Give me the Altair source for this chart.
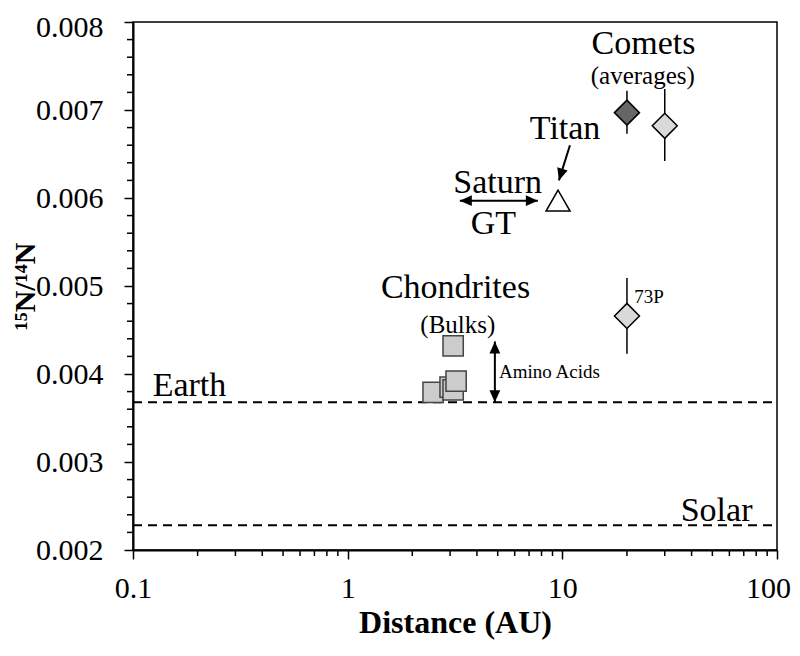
import altair as alt
import pandas as pd

FONT = "Liberation Serif"
W, H = 644, 528

# ---------------- data ----------------
# comet averages (dark = first, light = second) and comet 73P
comet_x = [20, 30, 20]
comet_y = [0.00697, 0.00682, 0.00466]
comet_lo = [0.00673, 0.00642, 0.00423]
comet_hi = [0.00722, 0.00724, 0.00509]
comet_group = ["dark", "light", "light"]

titan_x = [9.55]
titan_y = [0.00597]

chond_x = [2.5, 3.0, 3.1, 3.2, 3.1]
chond_y = [0.00379, 0.00385, 0.00382, 0.00392, 0.00432]

ref_names = ["Earth", "Solar"]
ref_y = [0.00368, 0.00228]
x_span = [0.1, 100]

# arrows: segments and heads
seg_x = [10.85, 3.33, 4.85]
seg_y = [0.00660, 0.00597, 0.00368]
seg_x2 = [9.64, 7.69, 4.85]
seg_y2 = [0.00620, 0.00597, 0.00437]
head_x = [9.64, 3.33, 7.69, 4.85, 4.85]
head_y = [0.00620, 0.00597, 0.00597, 0.00368, 0.00437]
head_angle = [17, 90, 270, 0, 180]

# labels
big_text = ["Comets", "Titan", "Saturn", "GT", "Chondrites"]
big_x = [23.9, 10.3, 5.0, 4.77, 3.18]
big_y = [0.00764, 0.006675, 0.00606, 0.005595, 0.00486]
sub_text = ["(averages)", "(Bulks)"]
sub_x = [23.7, 3.26]
sub_y = [0.0073, 0.00447]
ref_lab_x = [0.1235, 35.6]
ref_lab_y = [0.003748, 0.002334]
small_text = ["Amino Acids", "73P"]
small_x = [5.07, 21.6]
small_y = [0.004026, 0.00487]

# axis ticks
y_major = [0.002, 0.003, 0.004, 0.005, 0.006, 0.007, 0.008]
x_major = [0.1, 1, 10, 100]
y_minor = [round(0.002 + 0.0002 * i, 4) for i in range(31) if i % 5 != 0]
x_minor = [m * 10 ** e for e in (-1, 0, 1) for m in range(2, 10)]

# ---------------- scales / axes ----------------
xs = alt.Scale(type="log", domain=[0.1, 100], nice=False)
ys = alt.Scale(domain=[0.002, 0.008], nice=False, zero=False)

x_axis = alt.Axis(
    values=x_major, format="~g", title="Distance (AU)",
    titleFont=FONT, titleFontSize=32, titleFontWeight="bold", titleColor="black",
    titleY=82, titleBaseline="alphabetic",
    labelFont=FONT, labelFontSize=30, labelColor="black", labelPadding=14,
    labelFlush=False, labelOverlap=False,
    labelOffset={"condition": {"test": "datum.value >= 100", "value": -9}, "value": 0},
    tickSize=9, tickColor="black", tickWidth=1.5,
    domainColor="black", domainWidth=2, grid=False,
)
y_axis = alt.Axis(
    values=y_major, format=".3f", title="¹⁵N/¹⁴N",
    titleFont=FONT, titleFontSize=30, titleFontWeight="bold", titleColor="black",
    titleAngle=270, titleX=-108, titleY=H / 2, titleBaseline="middle", titleAlign="center",
    labelFont=FONT, labelFontSize=30, labelColor="black", labelPadding=21,
    labelFlush=False, labelOverlap=False,
    labelOffset={"condition": {"test": "datum.value >= 0.0079", "value": 5}, "value": 0},
    tickSize=9, tickColor="black", tickWidth=1.5,
    domainColor="black", domainWidth=2, grid=False,
)


def X(field):
    return alt.X(field, type="quantitative", scale=xs, axis=x_axis, title="Distance (AU)")


def Y(field):
    return alt.Y(field, type="quantitative", scale=ys, axis=y_axis, title="¹⁵N/¹⁴N")


# ---------------- layers ----------------
ref_df = pd.DataFrame({"name": ref_names, "y": ref_y, "x": x_span[0], "x2": x_span[1]})
ref_lines = alt.Chart(ref_df).mark_rule(color="black", strokeWidth=2, strokeDash=[9, 6]).encode(
    x=X("x"), x2="x2:Q", y=Y("y"),
)

comet_df = pd.DataFrame({"x": comet_x, "y": comet_y, "lo": comet_lo, "hi": comet_hi, "g": comet_group})
err = alt.Chart(comet_df).mark_rule(color="black", strokeWidth=1.5).encode(
    x=X("x"), y=Y("lo"), y2="hi:Q",
)
diam = alt.Chart(comet_df).mark_point(
    shape="diamond", filled=True, size=625, stroke="black", strokeWidth=1.5, opacity=1
).encode(
    x=X("x"), y=Y("y"),
    fill=alt.Fill("g:N", scale=alt.Scale(domain=["dark", "light"], range=["#666666", "#d9d9d9"]), legend=None),
)

chond_df = pd.DataFrame({"x": chond_x, "y": chond_y, "o": list(range(len(chond_x)))})
squares = alt.Chart(chond_df).mark_point(
    shape="square", filled=True, size=410, fill="#cccccc", stroke="#444444", strokeWidth=1.5, opacity=1
).encode(
    x=X("x"), y=Y("y"), order="o:Q",
)

titan_df = pd.DataFrame({"x": titan_x, "y": titan_y})
tri = alt.Chart(titan_df).mark_point(
    shape="triangle-up", filled=True, size=576, fill="white", stroke="black", strokeWidth=1.5, opacity=1
).encode(
    x=X("x"), y=Y("y"),
)

seg_df = pd.DataFrame({"x": seg_x, "y": seg_y, "x2": seg_x2, "y2": seg_y2})
segs = alt.Chart(seg_df).mark_rule(color="black", strokeWidth=2).encode(
    x=X("x"), x2="x2:Q", y=Y("y"), y2="y2:Q",
)
ARROW = "M0,0L-0.45,-1L0.45,-1Z"
head_df = pd.DataFrame({"x": head_x, "y": head_y, "a": head_angle})
heads = alt.Chart(head_df).mark_point(
    shape=ARROW, filled=True, fill="black", size=576, opacity=1, strokeWidth=0
).encode(
    x=X("x"), y=Y("y"), angle=alt.Angle("a:Q", scale=None),
)


def text_layer(texts, xv, yv, size, align, baseline):
    df = pd.DataFrame({"t": texts, "x": xv, "y": yv})
    return alt.Chart(df).mark_text(
        font=FONT, fontSize=size, color="black", align=align, baseline=baseline
    ).encode(
        x=X("x"), y=Y("y"), text="t:N",
    )


big = text_layer(big_text, big_x, big_y, 34, "center", "alphabetic")
sub = text_layer(sub_text, sub_x, sub_y, 25, "center", "alphabetic")
reflab = text_layer(ref_names, ref_lab_x, ref_lab_y, 34, "left", "alphabetic")
small = text_layer(small_text, small_x, small_y, 19, "left", "middle")

ymin = alt.Chart(pd.DataFrame({"y": y_minor})).mark_rule(color="black", strokeWidth=1.5).encode(
    y=Y("y"), x=alt.value(-6), x2=alt.value(0)
)
xmin = alt.Chart(pd.DataFrame({"x": x_minor})).mark_rule(color="black", strokeWidth=1.5).encode(
    x=X("x"), y=alt.value(H), y2=alt.value(H + 6)
)

chart = alt.layer(
    ref_lines, err, squares, tri, diam, segs, heads, big, sub, reflab, small, ymin, xmin
).properties(
    width=W, height=H,
    autosize=alt.AutoSizeParams(type="none"),
    padding={"left": 125, "top": 14, "right": 15, "bottom": 92},
    background="white",
).configure_view(
    stroke="black", strokeWidth=1.5
).configure_axis(
    labelFont=FONT, titleFont=FONT
).configure_text(font=FONT)

chart.save("out.html", embed_options={"renderer": "svg", "actions": False})
